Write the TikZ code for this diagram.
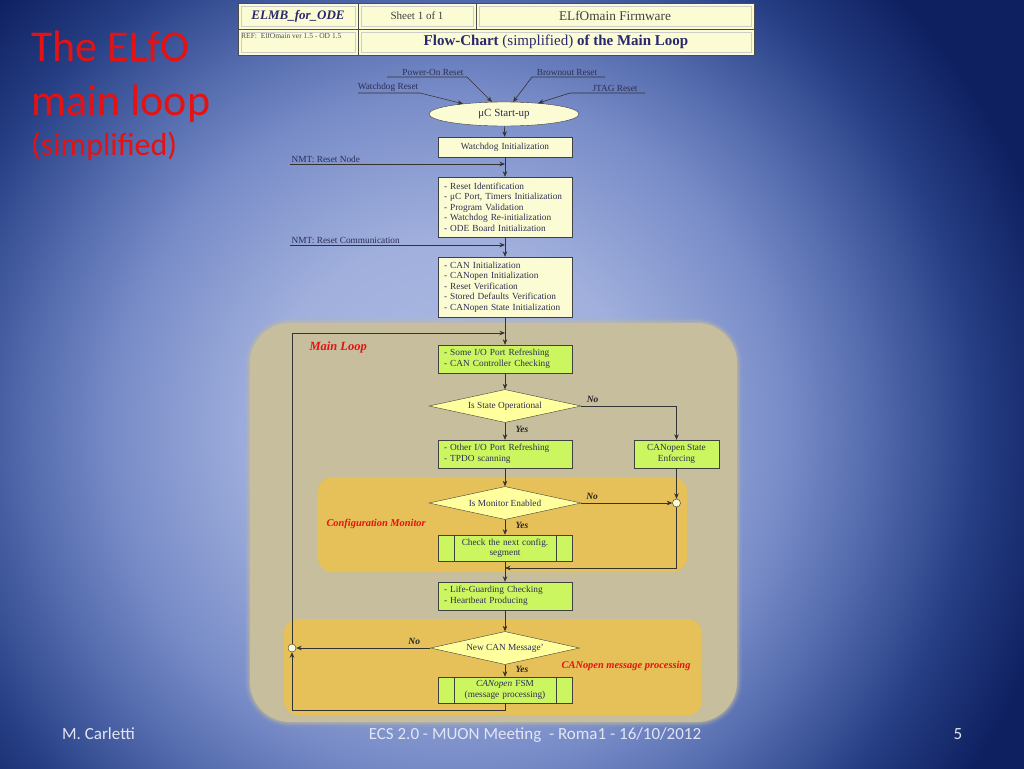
\documentclass[tikz,border=0pt]{standalone}
\usepackage{fontspec}
\setmainfont{Liberation Serif}
\newfontfamily\slidefont{Carlito}
\usetikzlibrary{shapes.geometric,arrows.meta}

\definecolor{bgin}{RGB}{174,188,228}
\definecolor{bglite}{RGB}{160,175,220}
\definecolor{bgmid}{RGB}{120,140,200}
\definecolor{bgdark}{RGB}{80,104,170}
\definecolor{bgdeep}{RGB}{38,62,132}
\definecolor{bgout}{RGB}{14,32,96}
\definecolor{pale}{RGB}{252,252,212}
\definecolor{lime}{RGB}{204,246,96}
\definecolor{dia}{RGB}{255,255,158}
\definecolor{loopbg}{RGB}{198,190,156}
\definecolor{subbg}{RGB}{230,192,88}
\definecolor{ink}{RGB}{45,45,85}
\definecolor{navy}{RGB}{40,40,112}
\definecolor{redlbl}{RGB}{228,18,18}
\definecolor{foot}{RGB}{226,230,242}
\pgfdeclareradialshading{slidebg}{\pgfpoint{0bp}{0bp}}{color(0bp)=(bgin); color(8bp)=(bglite); color(14bp)=(bgmid); color(18bp)=(bgdark); color(22bp)=(bgdeep); color(26bp)=(bgout); color(50bp)=(bgout)}

\begin{document}
\begin{tikzpicture}[x=1pt,y=-1pt,
    every node/.style={text=ink, font=\fontsize{9.3}{10.6}\selectfont},
    >={Stealth[length=5.5pt,width=4.5pt]},
    line/.style={draw=black!80, line width=0.6pt},
    cell/.style={draw=black!70, fill=pale, inner sep=0pt},
    cellin/.style={draw=black!20, line width=0.4pt},
    listbox/.style={draw=black!75, fill=#1, text width=122, inner xsep=6, inner ysep=0pt, align=left},
    procbox/.style={draw=black!75, fill=lime, text width=100, minimum width=134, minimum height=26, inner sep=0pt, align=center, font=\fontsize{9.3}{10.4}\selectfont},
    decision/.style={diamond, aspect=4.6, draw=black!75, fill=dia, minimum width=#1, minimum height=33, inner sep=0pt},
    junction/.style={circle, draw=black!80, fill=pale, minimum size=8, inner sep=0pt},
    yesno/.style={text=black!85, font=\fontsize{9.5}{10}\selectfont\bfseries\itshape},
    tag/.style={text=redlbl, font=\fontsize{#1}{13}\selectfont\bfseries\itshape},
    region/.style={fill=#1, rounded corners=14}]
\useasboundingbox (0,0) rectangle (1024,768);
% slide background
\begin{scope}
  \clip (0,0) rectangle (1024,768);
  \shade[shading=slidebg] (-150,-170) rectangle (1050,1030);
\end{scope}

% title and footer of the slide
\node[anchor=base west, inner sep=0pt, text=redlbl, font=\slidefont\fontsize{44}{50}\selectfont] (title1) at (31,62) {The ELfO};
\node[anchor=base west, inner sep=0pt, text=redlbl, font=\slidefont\fontsize{44}{50}\selectfont] (title2) at (31,115) {main loop};
\node[anchor=base west, inner sep=0pt, text=redlbl, font=\slidefont\fontsize{32}{36}\selectfont] (title3) at (31,155) {(simplified)};
\node[anchor=base west, inner sep=0pt, text=foot, font=\slidefont\fontsize{17}{19}\selectfont] (author) at (62,739) {M. Carletti};
\node[anchor=base, inner sep=0pt, text=foot, font=\slidefont\fontsize{17}{19}\selectfont] (meeting) at (535,739) {ECS 2.0 - MUON Meeting \ - Roma1 - 16/10/2012};
\node[anchor=base, inner sep=0pt, text=foot, font=\slidefont\fontsize{17}{19}\selectfont] (page) at (958,739) {5};

% header table
\node[cell, minimum width=120, minimum height=26, text=navy, font=\fontsize{13}{14}\selectfont\bfseries\itshape] (hdoc) at (298,16) {ELMB\_for\_ODE};
\node[cell, minimum width=118, minimum height=26, text=black!75, font=\fontsize{11}{12}\selectfont] (hsheet) at (417,16) {Sheet 1 of 1};
\node[cell, minimum width=278, minimum height=26, text=black!75, font=\fontsize{13.3}{14}\selectfont] (hfw) at (615,16) {ELfOmain Firmware};
\node[cell, minimum width=120, minimum height=26] (href) at (298,42) {};
\node[anchor=north west, inner sep=0pt, text=black!70, font=\fontsize{7.5}{8}\selectfont] (hreftxt) at (241,33) {REF:\ \ ElfOmain ver 1.5 - OD 1.5};
\node[cell, minimum width=396, minimum height=26, text=navy, font=\fontsize{15}{16}\selectfont] (htitle) at (556,42) {\textbf{Flow-Chart} (simplified) \textbf{of the Main Loop}};
\foreach \nm in {hdoc,hsheet,hfw,href,htitle}
  \draw[cellin] ([shift={(3,3)}]\nm.north west) rectangle ([shift={(-3,-3)}]\nm.south east);

% coloured regions, with a soft rim
\foreach \d/\op in {5/0.12,3/0.22,1.5/0.35}{%
  \fill[loopbg, opacity=\op, rounded corners=40+\d] (250-\d,323-\d) rectangle (737+\d,722+\d);
  \fill[subbg, opacity=\op, rounded corners=14+\d] (318-\d,477-\d) rectangle (687+\d,572+\d);
  \fill[subbg, opacity=\op, rounded corners=14+\d] (284-\d,619-\d) rectangle (702+\d,715+\d);
}
\fill[loopbg, rounded corners=40] (250,323) rectangle (737,722);
\path[region=subbg] (318,477) rectangle (687,572);
\path[region=subbg] (284,619) rectangle (702,715);
\node[tag=12.5, anchor=west] (lmain) at (306,347) {Main Loop};
\node[tag=10.4, anchor=west] (lcfg) at (323,524) {Configuration Monitor};
\node[tag=10.4, anchor=east] (lcan) at (694,666) {CANopen message processing};

% start-up
\node[ellipse, draw=black!75, fill=pale, minimum width=150, minimum height=24, font=\fontsize{11}{12}\selectfont] (start) at (504,114) {μC Start-up};
\foreach \nm/\txt/\tx/\xs/\xe/\yy in {rwd/Watchdog Reset/388/358/420/93, rpo/Power-On Reset/433/387/467/77, rbo/Brownout Reset/567/605/532/77, rjt/JTAG Reset/615/645/570/93}{%
  \node[anchor=south, inner sep=1.5pt] (\nm) at (\tx,\yy) {\txt};
  \coordinate (\nm-a) at (\xs,\yy);
  \coordinate (\nm-b) at (\xe,\yy);
  \draw[line,->] (\nm-a) -- (\nm-b) -- (start);
}

% initialisation
\node[listbox=pale, align=center, minimum height=20] (wdinit) at (505,147) {Watchdog Initialization};
\node[listbox=pale, minimum height=60] (resetid) at (505,207) {- Reset Identification\\- μC Port, Timers Initialization\\- Program Validation\\- Watchdog Re-initialization\\- ODE Board Initialization};
\node[listbox=pale, minimum height=60] (caninit) at (505,287) {- CAN Initialization\\- CANopen Initialization\\- Reset Verification\\- Stored Defaults Verification\\- CANopen State Initialization};
\node[anchor=south west, inner sep=1.5pt] (nmtnode) at (290,164) {NMT: Reset Node};
\node[anchor=south west, inner sep=1.5pt] (nmtcomm) at (290,245) {NMT: Reset Communication};
\coordinate (m1) at (505,164);
\coordinate (m2) at (505,245);
\coordinate (m3) at (505,333);
\coordinate (m4) at (505,568);

% main loop
\node[listbox=lime, minimum height=28] (ioref) at (505,359) {- Some I/O Port Refreshing\\- CAN Controller Checking};
\node[decision=152] (stateop) at (505,406) {Is State Operational};
\node[listbox=lime, minimum height=28] (otherio) at (505,454) {- Other I/O Port Refreshing\\- TPDO scanning};
\node[draw=black!75, fill=lime, minimum width=85, minimum height=28, inner sep=0pt, align=center] (enforce) at (676.5,454) {CANopen State\\Enforcing};
\node[decision=152] (monen) at (505,503) {Is Monitor Enabled};
\node[junction] (j1) at (676.5,503) {};
\node[procbox] (cfgchk) at (505,548) {Check the next config.\\segment};
\node[listbox=lime, minimum height=28] (lifeg) at (505,596) {- Life-Guarding Checking\\- Heartbeat Producing};
\node[decision=149] (newcan) at (505,648) {New CAN Message'};
\node[junction] (j2) at (292,648) {};
\node[procbox] (fsm) at (505,690) {\textit{CANopen} FSM\\(message processing)};
\foreach \nm in {cfgchk,fsm}{%
  \draw[black!75] ([xshift=16]\nm.north west) -- ([xshift=16]\nm.south west);
  \draw[black!75] ([xshift=-16]\nm.north east) -- ([xshift=-16]\nm.south east);
}

% connectors
\draw[line,->] (start) -- (wdinit);
\draw[line,->] (wdinit) -- (resetid);
\draw[line,->] (nmtnode.south west) -- (m1);
\draw[line,->] (resetid) -- (caninit);
\draw[line,->] (nmtcomm.south west) -- (m2);
\draw[line,->] (caninit) -- (ioref);
\draw[line,->] (ioref) -- (stateop);
\draw[line,->] (stateop) -- node[yesno, right=7pt, pos=0.4] {Yes} (otherio);
\draw[line,->] (stateop.east) -| node[yesno, above, pos=0.06] {No} (enforce);
\draw[line,->] (otherio) -- (monen);
\draw[line,->] (monen.east) -- node[yesno, above, pos=0.12] {No} (j1);
\draw[line,->] (enforce) -- (j1);
\draw[line,->] (monen) -- node[yesno, right=7pt, pos=0.4] {Yes} (cfgchk);
\draw[line,->] (j1) |- (m4);
\draw[line,->] (cfgchk) -- (lifeg);
\draw[line,->] (lifeg) -- (newcan);
\draw[line,->] (newcan.west) -- node[yesno, above, pos=0.12] {No} (j2);
\draw[line,->] (newcan) -- node[yesno, right=7pt, pos=0.4] {Yes} (fsm);
\draw[line,->] (fsm.south) -- ++(0,7) -| (j2);
\draw[line,->] (j2) |- (m3);
\end{tikzpicture}
\end{document}
